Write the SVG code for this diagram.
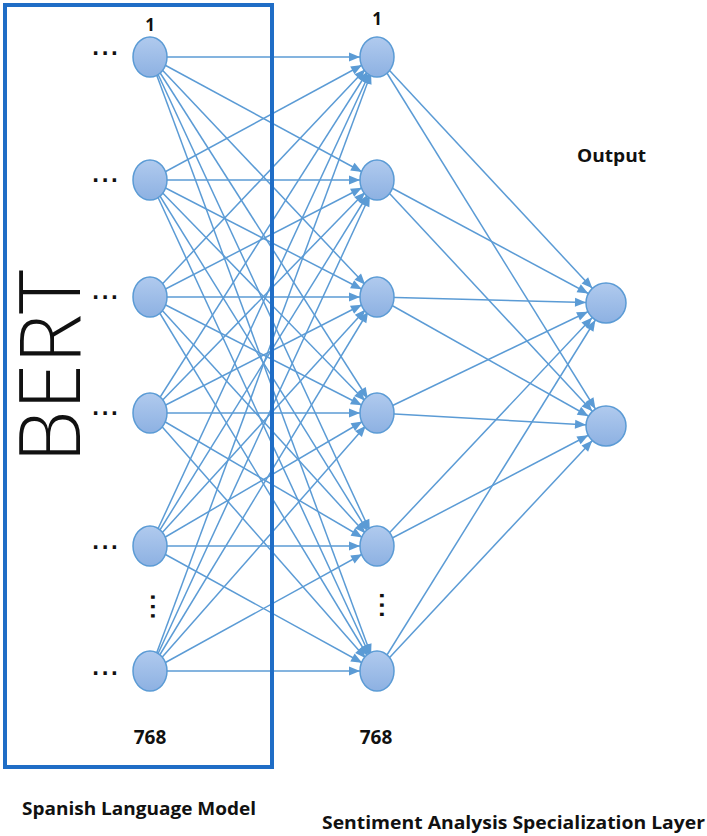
<svg xmlns="http://www.w3.org/2000/svg" width="707" height="836" viewBox="0 0 707 836">
<style>
.c{stroke:#5B9BD5;stroke-width:1.5;fill:none}
.h{marker-end:url(#ah)}
.o{marker-end:url(#ao)}
.n{fill:url(#g);stroke:#5B9BD5;stroke-width:1.5}
.t{font-family:"Open Sans","Liberation Sans",sans-serif;font-weight:700;fill:#111}
.d{font-family:"DejaVu Sans",sans-serif;font-weight:700;font-size:19px;letter-spacing:2.2px;fill:#111}
</style>
<defs>
<linearGradient id="g" x1="0" y1="0" x2="0" y2="1">
<stop offset="0" stop-color="#B0CAEE"/>
<stop offset="1" stop-color="#8DB1E2"/>
</linearGradient>
<marker id="ah" markerUnits="userSpaceOnUse" markerWidth="30" markerHeight="10" refX="28" refY="4.5" orient="auto" overflow="visible">
<path d="M0,0 L11,4.5 L0,9 z" fill="#5B9BD5"/>
</marker>
<marker id="ao" markerUnits="userSpaceOnUse" markerWidth="32" markerHeight="10" refX="31" refY="4.5" orient="auto" overflow="visible">
<path d="M0,0 L11,4.5 L0,9 z" fill="#5B9BD5"/>
</marker>
</defs>
<g id="connectors">
<g class="c h">
<line x1="150" y1="57" x2="377" y2="57"/><line x1="150" y1="57" x2="377" y2="180"/><line x1="150" y1="57" x2="377" y2="297"/><line x1="150" y1="57" x2="377" y2="413"/><line x1="150" y1="57" x2="377" y2="546"/><line x1="150" y1="57" x2="377" y2="671"/>
<line x1="150" y1="180" x2="377" y2="57"/><line x1="150" y1="180" x2="377" y2="180"/><line x1="150" y1="180" x2="377" y2="297"/><line x1="150" y1="180" x2="377" y2="413"/><line x1="150" y1="180" x2="377" y2="546"/><line x1="150" y1="180" x2="377" y2="671"/>
<line x1="150" y1="297" x2="377" y2="57"/><line x1="150" y1="297" x2="377" y2="180"/><line x1="150" y1="297" x2="377" y2="297"/><line x1="150" y1="297" x2="377" y2="413"/><line x1="150" y1="297" x2="377" y2="546"/><line x1="150" y1="297" x2="377" y2="671"/>
<line x1="150" y1="413" x2="377" y2="57"/><line x1="150" y1="413" x2="377" y2="180"/><line x1="150" y1="413" x2="377" y2="297"/><line x1="150" y1="413" x2="377" y2="413"/><line x1="150" y1="413" x2="377" y2="546"/><line x1="150" y1="413" x2="377" y2="671"/>
<line x1="150" y1="546" x2="377" y2="57"/><line x1="150" y1="546" x2="377" y2="180"/><line x1="150" y1="546" x2="377" y2="297"/><line x1="150" y1="546" x2="377" y2="413"/><line x1="150" y1="546" x2="377" y2="546"/><line x1="150" y1="546" x2="377" y2="671"/>
<line x1="150" y1="671" x2="377" y2="57"/><line x1="150" y1="671" x2="377" y2="180"/><line x1="150" y1="671" x2="377" y2="297"/><line x1="150" y1="671" x2="377" y2="413"/><line x1="150" y1="671" x2="377" y2="546"/><line x1="150" y1="671" x2="377" y2="671"/>
</g>
<g class="c o">
<line x1="377" y1="57" x2="606" y2="303"/><line x1="377" y1="57" x2="606" y2="426"/>
<line x1="377" y1="180" x2="606" y2="303"/><line x1="377" y1="180" x2="606" y2="426"/>
<line x1="377" y1="297" x2="606" y2="303"/><line x1="377" y1="297" x2="606" y2="426"/>
<line x1="377" y1="413" x2="606" y2="303"/><line x1="377" y1="413" x2="606" y2="426"/>
<line x1="377" y1="546" x2="606" y2="303"/><line x1="377" y1="546" x2="606" y2="426"/>
<line x1="377" y1="671" x2="606" y2="303"/><line x1="377" y1="671" x2="606" y2="426"/>
</g>
</g>
<g id="bert-box">
<rect x="5" y="5" width="267" height="762" fill="none" stroke="#1F6DC6" stroke-width="4"/>
<text transform="translate(80,463) rotate(-90)" font-family="'Open Sans','Liberation Sans',sans-serif" font-weight="300" font-size="84" fill="#111">BERT</text>
</g>
<g id="input-layer">
<g id="in1"><ellipse class="n" cx="150" cy="57" rx="17" ry="20"/><text class="d" x="92" y="55">...</text></g>
<g id="in2"><ellipse class="n" cx="150" cy="180" rx="17" ry="20"/><text class="d" x="92" y="182">...</text></g>
<g id="in3"><ellipse class="n" cx="150" cy="297" rx="17" ry="20"/><text class="d" x="92" y="299">...</text></g>
<g id="in4"><ellipse class="n" cx="150" cy="413" rx="17" ry="20"/><text class="d" x="92" y="415">...</text></g>
<g id="in5"><ellipse class="n" cx="150" cy="546" rx="17" ry="20"/><text class="d" x="92" y="549">...</text></g>
<g id="in6"><ellipse class="n" cx="150" cy="671" rx="17" ry="20"/><text class="d" x="92" y="675">...</text></g>
<text class="d" transform="translate(151,593.5) rotate(90)">...</text>
<text class="t" x="150" y="31" font-size="17" text-anchor="middle">1</text>
<text class="t" x="150" y="744" font-size="19" text-anchor="middle">768</text>
</g>
<g id="hidden-layer">
<g id="h1"><ellipse class="n" cx="377" cy="57" rx="17" ry="20"/></g>
<g id="h2"><ellipse class="n" cx="377" cy="180" rx="17" ry="20"/></g>
<g id="h3"><ellipse class="n" cx="377" cy="297" rx="17" ry="20"/></g>
<g id="h4"><ellipse class="n" cx="377" cy="413" rx="17" ry="20"/></g>
<g id="h5"><ellipse class="n" cx="377" cy="546" rx="17" ry="20"/></g>
<g id="h6"><ellipse class="n" cx="377" cy="671" rx="17" ry="20"/></g>
<text class="d" transform="translate(380,592) rotate(90)">...</text>
<text class="t" x="377" y="25" font-size="17" text-anchor="middle">1</text>
<text class="t" x="376" y="744" font-size="19" text-anchor="middle">768</text>
</g>
<g id="output-layer">
<g id="out1"><circle class="n" cx="606" cy="303" r="20"/></g>
<g id="out2"><circle class="n" cx="606" cy="426" r="20"/></g>
<text class="t" x="577" y="162" font-size="18" textLength="69" lengthAdjust="spacingAndGlyphs">Output</text>
</g>
<g id="captions">
<text class="t" x="22" y="815" font-size="18" font-weight="600" textLength="234" lengthAdjust="spacingAndGlyphs">Spanish Language Model</text>
<text class="t" x="322" y="829" font-size="18" font-weight="600" textLength="383" lengthAdjust="spacingAndGlyphs">Sentiment Analysis Specialization Layer</text>
</g>
</svg>
